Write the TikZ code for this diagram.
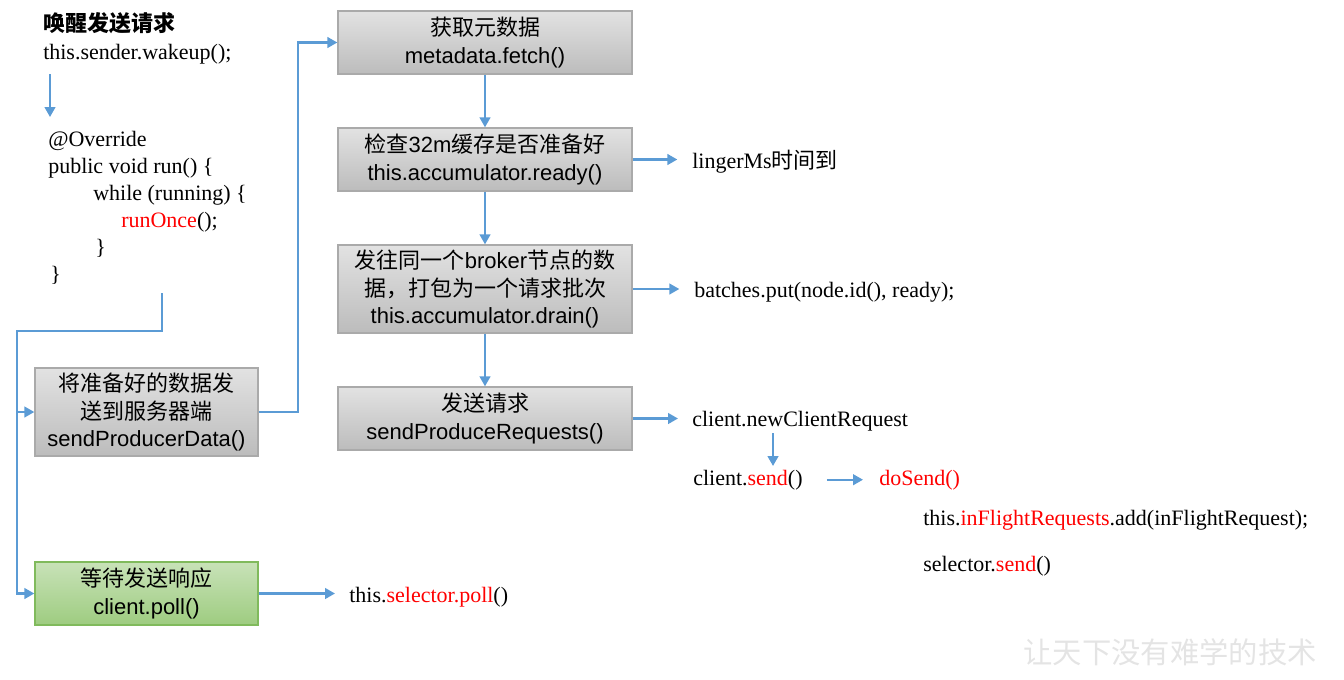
\documentclass[tikz,border=0pt]{standalone}
\usepackage{fontspec}
\setmainfont{Liberation Serif}
\setsansfont{Liberation Sans}
\newfontfamily\cjk{Noto Sans CJK SC}
\usetikzlibrary{arrows.meta}
\definecolor{lblue}{RGB}{91,155,213}
\definecolor{gtop}{RGB}{226,226,226}
\definecolor{gbot}{RGB}{188,188,188}
\definecolor{gborder}{RGB}{170,170,170}
\definecolor{grtop}{RGB}{200,226,184}
\definecolor{grbot}{RGB}{158,204,128}
\definecolor{grborder}{RGB}{128,186,92}
\definecolor{wmark}{RGB}{228,228,228}
\definecolor{codered}{RGB}{255,0,0}
\begin{document}
\begin{tikzpicture}[x=0.75pt,y=-0.75pt,
  box/.style={draw=gborder, line width=1pt, top color=gtop, bottom color=gbot,
    minimum width=220.5pt, minimum height=47.25pt, align=center, inner sep=0pt,
    font=\fontsize{16.5pt}{20.6pt}\selectfont\sffamily},
  tallbox/.style={box, minimum height=66pt},
  leftbox/.style={box, minimum width=167.25pt},
  greenbox/.style={leftbox, draw=grborder, top color=grtop, bottom color=grbot},
  txt/.style={anchor=base west, inner sep=0pt, font=\fontsize{16.5pt}{20pt}\selectfont},
  arr/.style={draw=lblue, line width=1.7pt, -{Triangle[length=7.5pt,width=8pt]}},
  ln/.style={draw=lblue, line width=1.7pt}
]
\useasboundingbox (0,0) rectangle (1344,679);

% left text
\node[txt, font=\fontsize{16.5pt}{20pt}\selectfont\cjk\bfseries] (title) at (43,31) {唤醒发送请求};
\node[txt] (wake) at (43,59) {this.sender.wakeup();};
\node[txt] (c1) at (48,146) {@Override};
\node[txt] (c2) at (48,173) {public void run() \{};
\node[txt] (c3) at (93,200) {while (running) \{};
\node[txt] (c4) at (121,227) {\textcolor{codered}{runOnce}();};
\node[txt] (c5) at (95,254) {\}};
\node[txt] (c6) at (50,281) {\}};
\coordinate (w1) at (50,74);
\coordinate (w2) at (50,117);
\draw[arr] (w1) -- (w2);

% boxes
\node[box] (meta) at (485,42.5) {{\cjk 获取元数据}\\metadata.fetch()};
\node[box] (ready) at (485,159.5) {{\cjk 检查}32m{\cjk 缓存是否准备好}\\this.accumulator.ready()};
\node[tallbox] (drain) at (485,289) {{\cjk 发往同一个}broker{\cjk 节点的数}\\{\cjk 据，打包为一个请求批次}\\this.accumulator.drain()};
\node[box] (spr) at (485,418.5) {{\cjk 发送请求}\\sendProduceRequests()};
\node[leftbox, minimum height=66pt] (spd) at (146.5,412) {{\cjk 将准备好的数据发}\\{\cjk 送到服务器端}\\sendProducerData()};
\node[greenbox] (poll) at (146.5,593.5) {{\cjk 等待发送响应}\\client.poll()};

\draw[arr] (meta) -- (ready);
\draw[arr] (ready) -- (drain);
\draw[arr] (drain) -- (spr);

% loop lines
\coordinate (ls) at (162,293);
\coordinate (lx) at (17,331);
\draw[arr] (ls) |- (lx) |- (poll.west);
\draw[arr] (lx |- spd.west) -- (spd.west);
\coordinate (jx) at (298,412);
\draw[arr] (spd.east) -- (jx) |- (meta.west);

% right annotations
\node[txt] (linger) at (692,168) {lingerMs{\cjk 时间到}};
\node[txt] (batches) at (694,297) {batches.put(node.id(), ready);};
\node[txt] (ncr) at (692,426) {client.newClientRequest};
\node[txt] (csend) at (693,485) {client.\textcolor{codered}{send}()};
\node[txt] (dosend) at (879,485) {\textcolor{codered}{doSend()}};
\node[txt] (infl) at (923,525) {this.\textcolor{codered}{inFlightRequests}.add(inFlightRequest);};
\node[txt] (ssend) at (923,571) {selector.\textcolor{codered}{send}()};
\node[txt] (spoll) at (349,602) {this.\textcolor{codered}{selector.poll}()};

\draw[arr, shorten >=11pt] (ready.east) -- (ready.east -| linger.west);
\draw[arr, shorten >=11pt] (drain.east) -- (drain.east -| batches.west);
\draw[arr, shorten >=10.5pt] (spr.east) -- (spr.east -| ncr.west);
\draw[arr, shorten >=10.5pt] (poll.east) -- (poll.east -| spoll.west);
\coordinate (ca) at (773,433);
\coordinate (cb) at (773,466);
\draw[arr] (ca) -- (cb);
\draw[arr, shorten <=18pt, shorten >=12pt] (csend.east) -- (csend.east -| dosend.west);

% watermark
\node[font=\fontsize{22pt}{22pt}\selectfont\cjk, text=wmark, inner sep=0pt] (wm) at (1170,652) {让天下没有难学的技术};
\end{tikzpicture}
\end{document}
